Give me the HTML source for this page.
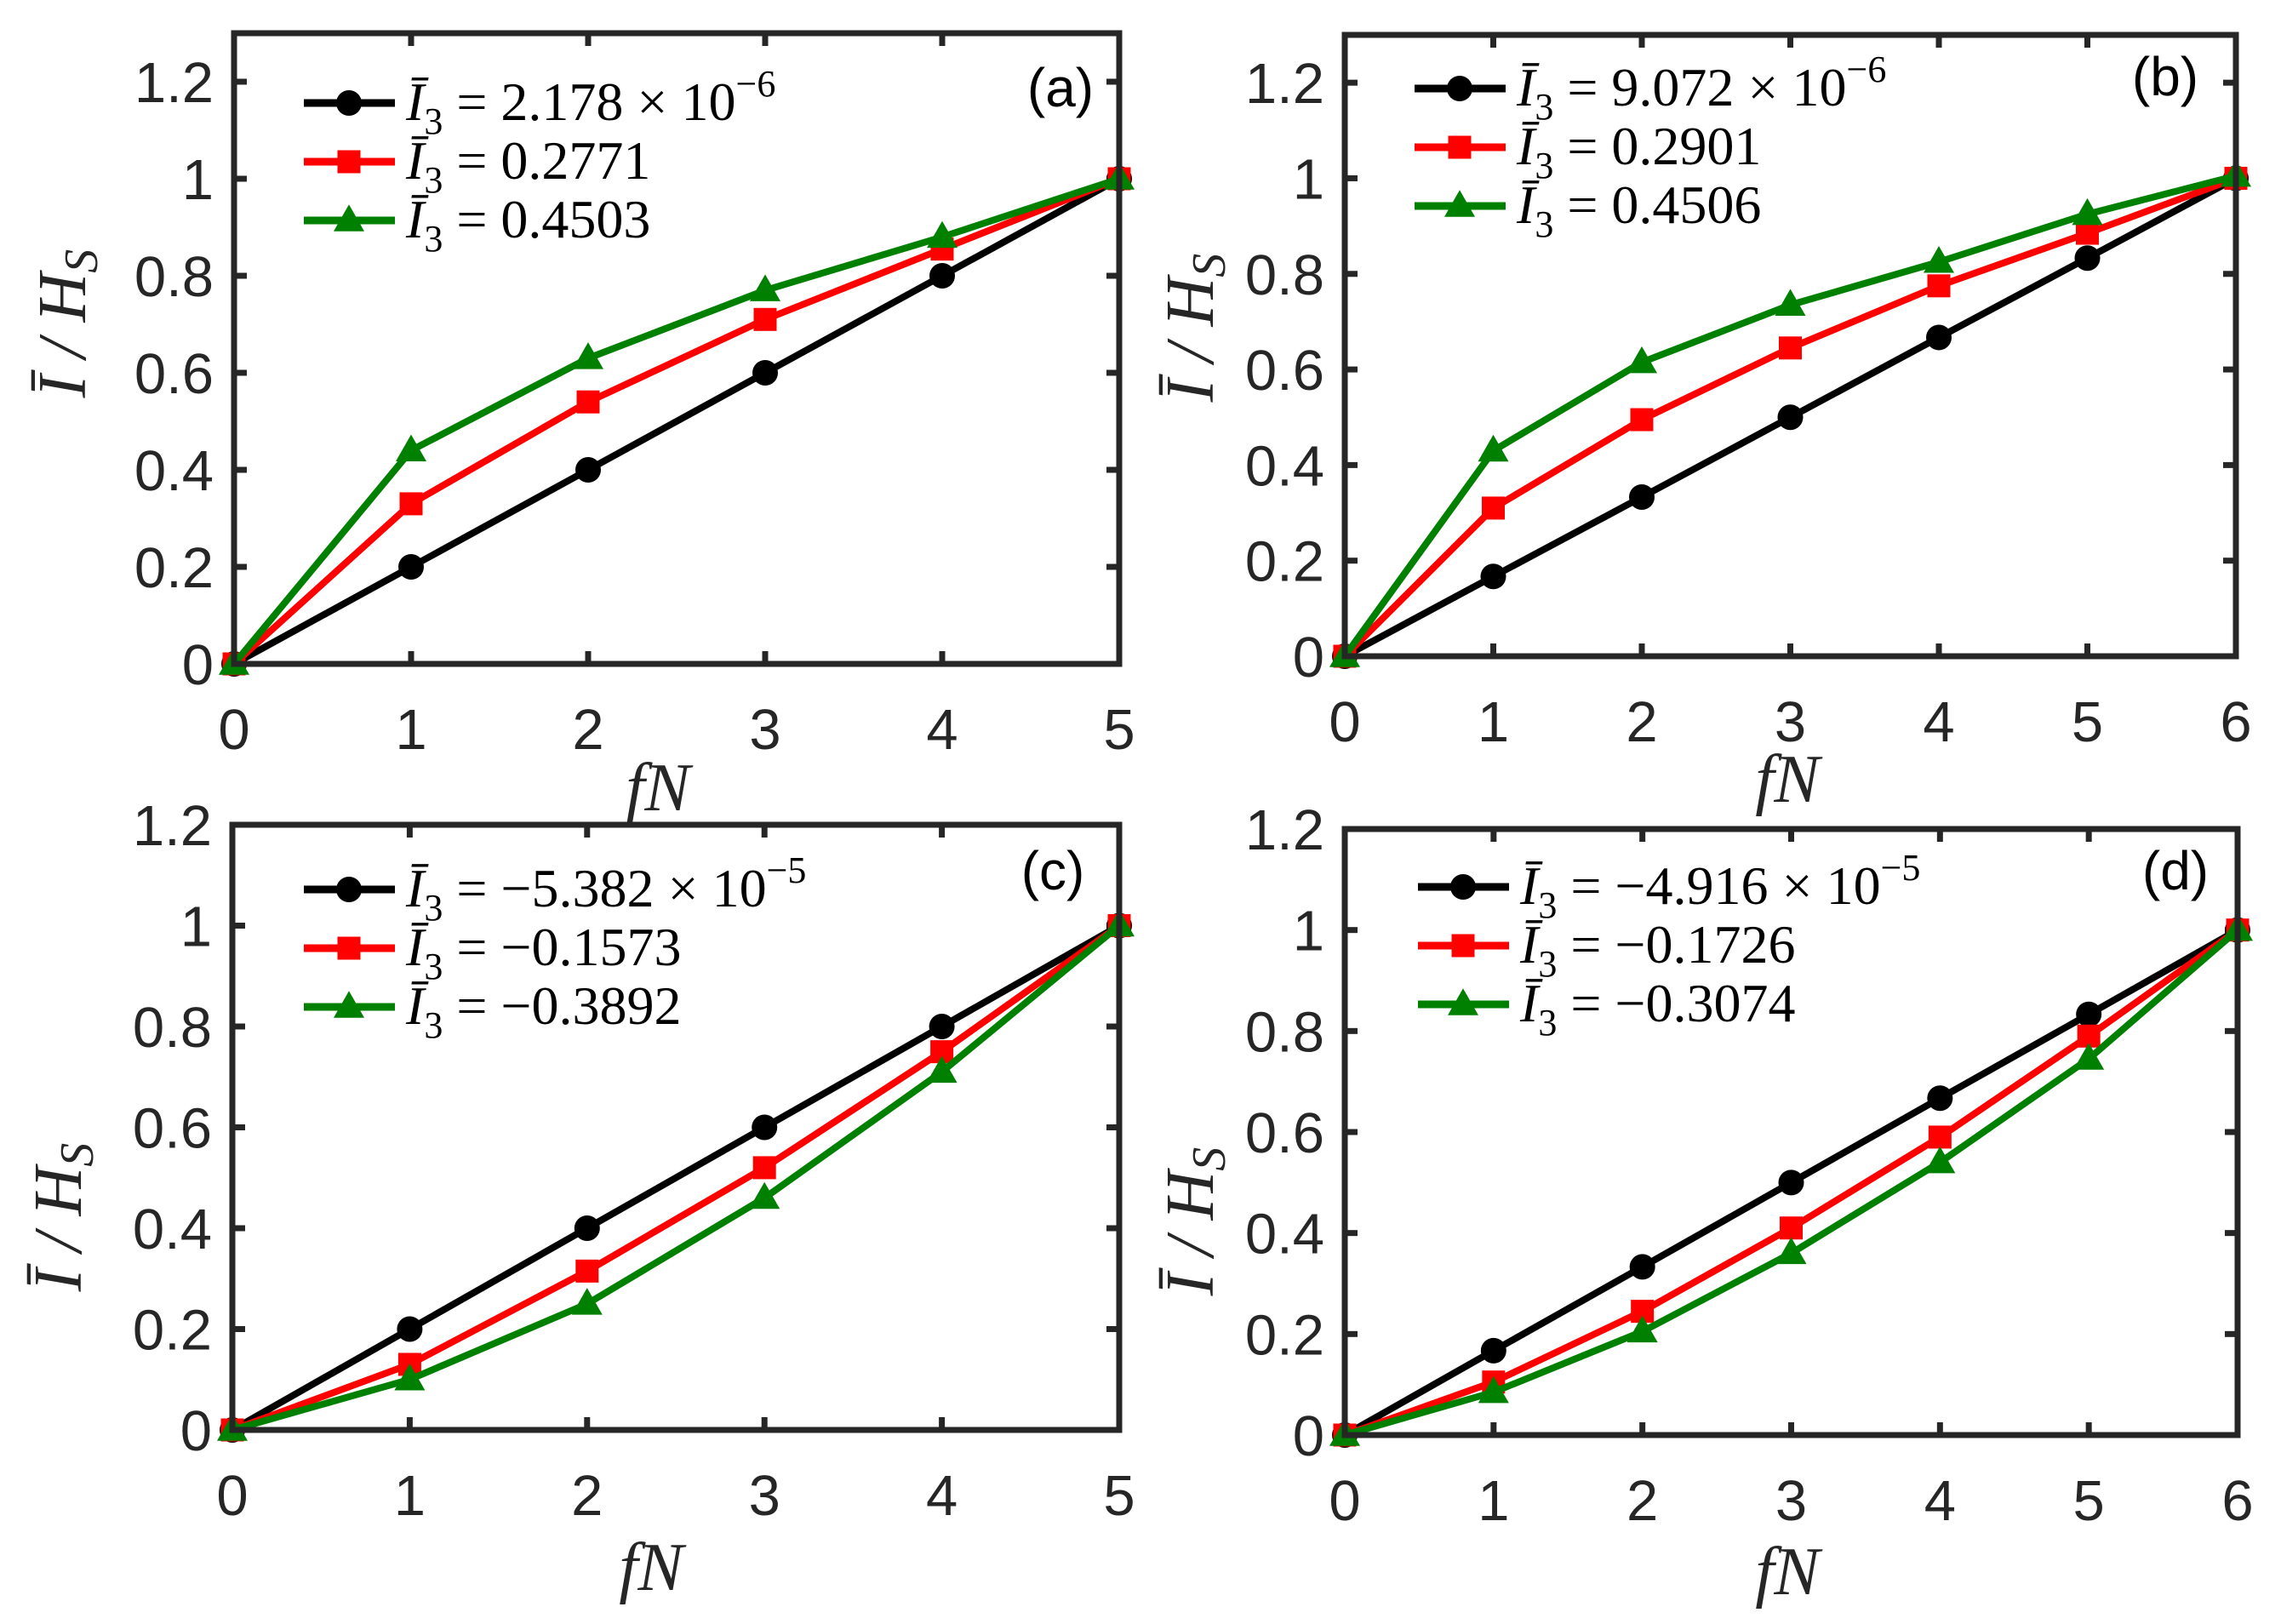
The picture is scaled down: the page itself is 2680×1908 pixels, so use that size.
<!DOCTYPE html>
<html><head><meta charset="utf-8"><style>
html,body{margin:0;padding:0;background:#fff;}
svg{display:block;}
.tick{font-family:"Liberation Sans",sans-serif;font-size:67px;fill:#262626;}
.leg{font-family:"Liberation Serif",serif;font-size:64px;fill:#000;}
.ax{font-family:"Liberation Serif",serif;font-size:80px;font-style:italic;fill:#262626;}
.pl{font-family:"Liberation Sans",sans-serif;font-size:64px;fill:#000;}
</style></head><body>
<svg id="fig" xmlns="http://www.w3.org/2000/svg" width="2680" height="1908" viewBox="0 0 2680 1908"></svg>
<script>
const xCatsA = [0,1,2,3,4,5];
const xCatsB = [0,1,2,3,4,5,6];
const yTicksAB = [0,0.2,0.4,0.6,0.8,1,1.2];
const yTickLabels = ["0","0.2","0.4","0.6","0.8","1","1.2"];
const aBlack = [0,0.2,0.4,0.6,0.8,1];
const aRed = [0,0.33,0.54,0.71,0.855,1];
const aGreen = [0,0.44,0.63,0.77,0.88,1];
const bBlack = [0,0.167,0.333,0.5,0.667,0.833,1];
const bRed = [0,0.31,0.495,0.645,0.775,0.885,1];
const bGreen = [0,0.43,0.615,0.735,0.825,0.925,1.005];
const cBlack = [0,0.2,0.4,0.6,0.8,1];
const cRed = [0,0.13,0.315,0.52,0.75,1];
const cGreen = [0,0.1,0.25,0.46,0.71,1];
const dBlack = [0,0.167,0.333,0.5,0.667,0.833,1];
const dRed = [0,0.105,0.245,0.41,0.59,0.79,1];
const dGreen = [0,0.085,0.205,0.36,0.54,0.745,1];
const legA = [["","2.178 × 10","−6"],["","0.2771",""],["","0.4503",""]];
const legB = [["","9.072 × 10","−6"],["","0.2901",""],["","0.4506",""]];
const legC = [["","−5.382 × 10","−5"],["","−0.1573",""],["","−0.3892",""]];
const legD = [["","−4.916 × 10","−5"],["","−0.1726",""],["","−0.3074",""]];

const NS="http://www.w3.org/2000/svg";
const svg=document.getElementById('fig');
function mk(tag,attrs,parent){const e=document.createElementNS(NS,tag);for(const k in attrs)e.setAttribute(k,attrs[k]);(parent||svg).appendChild(e);return e;}

const panels=[
 {id:'a',L:275,R:1315,T:39,B:780,ymax:1.3,xs:xCatsA,ser:[aBlack,aRed,aGreen],leg:legA,legY:121,legX:357,lab:[1246,125],yl:[100,380],xl:[773,952]},
 {id:'b',L:1580,R:2627,T:41,B:771,ymax:1.3,xs:xCatsB,ser:[bBlack,bRed,bGreen],leg:legB,legY:104,legX:1662,lab:[2544,112],yl:[1425,385],xl:[2100,942]},
 {id:'c',L:273,R:1315,T:969,B:1680,ymax:1.2,xs:xCatsA,ser:[cBlack,cRed,cGreen],leg:legC,legY:1045,legX:357,lab:[1237,1045],yl:[95,1430],xl:[765,1868]},
 {id:'d',L:1580,R:2629,T:974,B:1686,ymax:1.2,xs:xCatsB,ser:[dBlack,dRed,dGreen],leg:legD,legY:1042,legX:1666,lab:[2556,1045],yl:[1425,1435],xl:[2100,1873]}
];
const colors=['#000000','#ff0000','#008000'];
const names=['black-series','red-series','green-series'];

function marker(g,k,x,y,s){
  let m;
  if(k===0){m=mk('circle',{cx:x,cy:y,r:s,fill:colors[0]},g);}
  else if(k===1){m=mk('rect',{x:x-s*0.9,y:y-s*0.9,width:s*1.8,height:s*1.8,fill:colors[1]},g);}
  else {m=mk('polygon',{points:`${x},${y-s*1.25} ${x-s*1.2},${y+s*0.85} ${x+s*1.2},${y+s*0.85}`,fill:colors[2]},g);}
  return m;
}

panels.forEach(p=>{
  const g=mk('g',{});
  
  
  const xmax=p.xs[p.xs.length-1];
  const sx=v=>p.L+(p.R-p.L)*v/xmax;
  const sy=v=>p.B-(p.B-p.T)*v/p.ymax;
  p.xs.forEach(v=>{
    const x=sx(v);
    mk('line',{x1:x,y1:p.B,x2:x,y2:p.B-15,stroke:'#262626','stroke-width':7},g);
    mk('line',{x1:x,y1:p.T,x2:x,y2:p.T+15,stroke:'#262626','stroke-width':7},g);
    const t=mk('text',{x:x,y:p.B+100,'text-anchor':'middle',class:'tick'},g);
    t.textContent=String(v);
    
    
  });
  yTicksAB.forEach((v,i)=>{
    const y=sy(v);
    mk('line',{x1:p.L,y1:y,x2:p.L+15,y2:y,stroke:'#262626','stroke-width':7},g);
    mk('line',{x1:p.R,y1:y,x2:p.R-15,y2:y,stroke:'#262626','stroke-width':7},g);
    const t=mk('text',{x:p.L-24,y:y+24,'text-anchor':'end',class:'tick'},g);
    t.textContent=yTickLabels[i];
    
    
  });
  p.ser.forEach((arr,k)=>{
    const sg=mk('g',{},g);
    
    
    const pts=arr.map((v,i)=>sx(p.xs[i])+','+sy(v)).join(' ');
    mk('polyline',{points:pts,fill:'none',stroke:colors[k],'stroke-width':8,'stroke-linejoin':'round'},sg);
    arr.forEach((v,i)=>{const m=marker(sg,k,sx(p.xs[i]),sy(v),15);
      
      });
  });
  const box=mk('rect',{x:p.L,y:p.T,width:p.R-p.L,height:p.B-p.T,fill:'none',stroke:'#262626','stroke-width':7},g);
  
  
  const lg=mk('g',{},g);
  
  
  p.leg.forEach((e,k)=>{
    const y=p.legY+k*69;
    const eg=mk('g',{},lg);
    
    
    mk('line',{x1:p.legX,y1:y,x2:p.legX+107,y2:y,stroke:colors[k],'stroke-width':9},eg);
    marker(eg,k,p.legX+53,y,15);
    const t=mk('text',{x:p.legX+120,y:y+20,class:'leg'},eg);
    const a=mk('tspan',{'font-style':'italic'},t);a.textContent='Ī';
    const s=mk('tspan',{dy:16,'font-size':44},t);s.textContent='3';
    const b=mk('tspan',{dy:-16},t);b.textContent=' = '+e[1];
    if(e[2]){const c=mk('tspan',{dy:-28,'font-size':44},t);c.textContent=e[2];}
  });
  const pl=mk('text',{x:p.lab[0],y:p.lab[1],'text-anchor':'middle',class:'pl'},g);
  pl.textContent='('+p.id+')';
  
  
  const yl=mk('text',{x:p.yl[0],y:p.yl[1],'text-anchor':'middle',class:'ax',transform:`rotate(-90 ${p.yl[0]} ${p.yl[1]})`},g);
  
  
  const y1=mk('tspan',{},yl);y1.textContent='Ī / H';
  const y2=mk('tspan',{dy:14,'font-size':56},yl);y2.textContent='S';
  const xl=mk('text',{x:p.xl[0],y:p.xl[1],'text-anchor':'middle',class:'ax'},g);
  xl.textContent='fN';
  
  
});
</script>
</body></html>
